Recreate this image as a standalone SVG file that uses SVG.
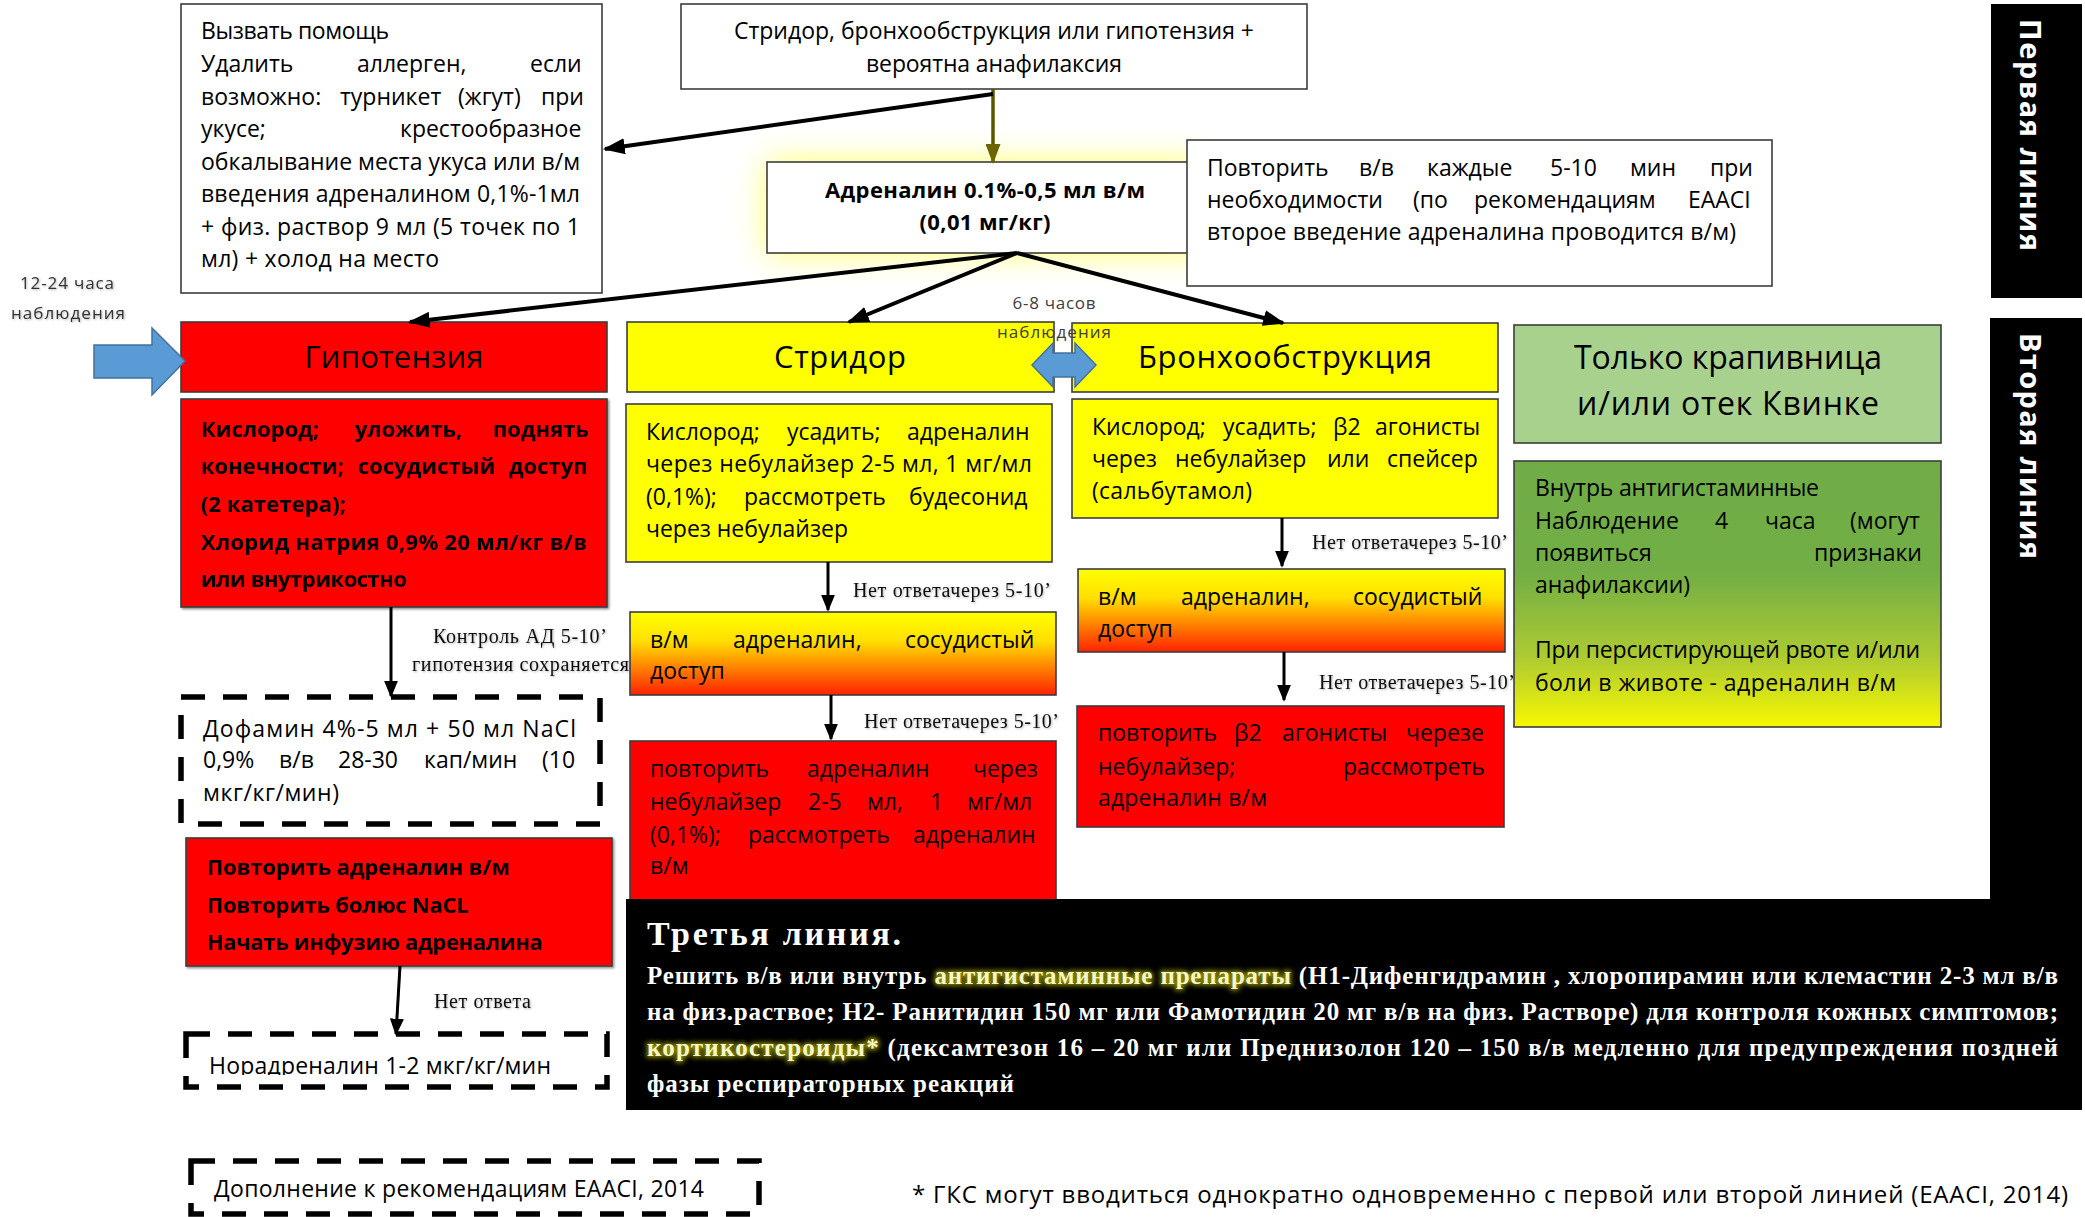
<svg xmlns="http://www.w3.org/2000/svg" width="2085" height="1217" viewBox="0 0 2085 1217">
<defs>
<style>
.s{font-family:"Open Sans","Noto Sans","DejaVu Sans",sans-serif;font-size:23px;fill:#000}
.bd{font-weight:bold}
.h{font-size:31px}
.tm{font-family:"Liberation Serif","Times New Roman",serif;font-size:20px;fill:#111}
.tb{font-family:"Liberation Serif","Times New Roman",serif;font-weight:bold;font-size:25px;fill:#fff}
.box{stroke:#3c3c3c;stroke-width:1.6}
.dash{fill:#fff;stroke:#000;stroke-width:5.5;stroke-dasharray:24 18}
.conn{stroke:#000;stroke-width:4;fill:none}
.conn2{stroke:#000;stroke-width:3;fill:none}
.blue{fill:#5b9bd5;stroke:#41719c;stroke-width:1.5}
.rb{font-size:22px}
</style>
<linearGradient id="orange" x1="0" y1="0" x2="0" y2="1">
<stop offset="0" stop-color="#ffff00"/><stop offset="0.35" stop-color="#ffdf00"/><stop offset="1" stop-color="#ff2200"/>
</linearGradient>
<linearGradient id="green" x1="0" y1="0" x2="0" y2="1">
<stop offset="0" stop-color="#70ad47"/><stop offset="0.42" stop-color="#72ae45"/><stop offset="0.75" stop-color="#b0cc30"/><stop offset="1" stop-color="#f8f800"/>
</linearGradient>
<filter id="glow" x="-30%" y="-60%" width="160%" height="220%"><feGaussianBlur stdDeviation="16"/></filter>
<filter id="shadow" x="-5%" y="-20%" width="110%" height="140%"><feDropShadow dx="1.5" dy="1.5" stdDeviation="1.2" flood-color="#000" flood-opacity="0.45"/></filter>
<filter id="soft" x="-5%" y="-20%" width="110%" height="140%"><feDropShadow dx="1" dy="1" stdDeviation="1.2" flood-color="#000" flood-opacity="0.3"/></filter>
<filter id="hlglow" x="-5%" y="-30%" width="110%" height="160%"><feGaussianBlur stdDeviation="2.5"/></filter>
<marker id="ah" viewBox="0 0 10 10" refX="9" refY="5" markerUnits="userSpaceOnUse" markerWidth="22" markerHeight="16" orient="auto" preserveAspectRatio="none"><path d="M0,0 L10,5 L0,10 z" fill="#000"/></marker>
<marker id="ah2" viewBox="0 0 10 10" refX="9" refY="5" markerUnits="userSpaceOnUse" markerWidth="17" markerHeight="14" orient="auto" preserveAspectRatio="none"><path d="M0,0 L10,5 L0,10 z" fill="#000"/></marker>
<marker id="aho" viewBox="0 0 10 10" refX="9" refY="5" markerUnits="userSpaceOnUse" markerWidth="20" markerHeight="15" orient="auto" preserveAspectRatio="none"><path d="M0,0 L10,5 L0,10 z" fill="#6b6600"/></marker>
<clipPath id="normclip"><rect x="186" y="1034" width="421" height="41"/></clipPath>
</defs>
<rect width="2085" height="1217" fill="#fff"/>

<!-- side bars -->
<g id="n-first-line">
<rect x="1991" y="4" width="91" height="294" fill="#000"/>
<text class="s bd" style="fill:#fff;font-size:29px" transform="translate(2031,135) rotate(90)" text-anchor="middle" dominant-baseline="central" textLength="232" lengthAdjust="spacing">Первая  линия</text>
</g>
<g id="n-second-line">
<rect x="1990" y="318" width="92" height="582" fill="#000"/>
<text class="s bd" style="fill:#fff;font-size:29px" transform="translate(2031,446) rotate(90)" text-anchor="middle" dominant-baseline="central" textLength="226" lengthAdjust="spacing">Вторая  линия</text>
</g>

<!-- help box -->
<g id="n-help">
<rect class="box" x="181" y="4" width="421" height="289" fill="#fff"/>
<text class="s" x="201" y="39" textLength="188" lengthAdjust="spacing">Вызвать помощь</text>
<text class="s" y="72"><tspan x="201">Удалить</tspan><tspan x="357">аллерген,</tspan><tspan x="530">если</tspan></text>
<text class="s" y="105"><tspan x="201">возможно:</tspan><tspan x="340">турникет</tspan><tspan x="458">(жгут)</tspan><tspan x="541">при</tspan></text>
<text class="s" y="137"><tspan x="201">укусе;</tspan><tspan x="400">крестообразное</tspan></text>
<text class="s" x="201" y="170" textLength="379" lengthAdjust="spacing">обкалывание места укуса или в/м</text>
<text class="s" x="201" y="202" textLength="379" lengthAdjust="spacing">введения адреналином 0,1%-1мл</text>
<text class="s" x="201" y="235" textLength="379" lengthAdjust="spacing">+ физ. раствор  9 мл (5 точек по 1</text>
<text class="s" x="201" y="267" textLength="238" lengthAdjust="spacing">мл) + холод на место</text>
</g>

<!-- start box -->
<g id="n-start">
<rect class="box" x="681" y="4" width="626" height="85" fill="#fff"/>
<text class="s" x="994" y="39" text-anchor="middle" textLength="520" lengthAdjust="spacing">Стридор, бронхообструкция или гипотензия +</text>
<text class="s" x="994" y="72" text-anchor="middle" textLength="256" lengthAdjust="spacing">вероятна анафилаксия</text>
</g>

<!-- adrenaline -->
<g id="n-adrenaline">
<rect x="767" y="162" width="436" height="91" fill="#ffff30" opacity="0.75" filter="url(#glow)"/>
<rect class="box" x="767" y="162" width="436" height="91" fill="#fff"/>
<text class="s bd" style="font-size:22px" x="985" y="198" text-anchor="middle" textLength="320" lengthAdjust="spacing">Адреналин 0.1%-0,5 мл в/м</text>
<text class="s bd" style="font-size:22px" x="985" y="230" text-anchor="middle" textLength="131" lengthAdjust="spacing">(0,01 мг/кг)</text>
</g>

<!-- repeat box -->
<g id="n-repeat">
<rect class="box" x="1187" y="140" width="585" height="146" fill="#fff"/>
<text class="s" y="176"><tspan x="1207">Повторить</tspan><tspan x="1359">в/в</tspan><tspan x="1427">каждые</tspan><tspan x="1550">5-10</tspan><tspan x="1630">мин</tspan><tspan x="1710">при</tspan></text>
<text class="s" y="208"><tspan x="1207">необходимости</tspan><tspan x="1413">(по</tspan><tspan x="1474">рекомендациям</tspan><tspan x="1688">EAACI</tspan></text>
<text class="s" x="1207" y="240" textLength="529" lengthAdjust="spacing">второе введение адреналина проводится в/м)</text>
</g>

<!-- hypotension column -->
<g id="n-hypotension">
<rect class="box" x="181" y="322" width="426" height="70" fill="#ff0000"/>
<text class="s h" x="394" y="368" text-anchor="middle" textLength="179" lengthAdjust="spacing">Гипотензия</text>
</g>
<g id="n-hypo-actions" filter="url(#shadow)">
<rect class="box" x="181" y="399" width="426" height="208" fill="#ff0000"/>
<text class="s bd rb" y="437"><tspan x="201">Кислород;</tspan><tspan x="355">уложить,</tspan><tspan x="493">поднять</tspan></text>
<text class="s bd rb" y="474"><tspan x="201">конечности;</tspan><tspan x="358">сосудистый</tspan><tspan x="509">доступ</tspan></text>
<text class="s bd rb" x="201" y="512" textLength="145" lengthAdjust="spacing">(2 катетера);</text>
<text class="s bd rb" x="201" y="550" textLength="386" lengthAdjust="spacing">Хлорид натрия 0,9% 20 мл/кг в/в</text>
<text class="s bd rb" x="201" y="587" textLength="206" lengthAdjust="spacing">или внутрикостно</text>
</g>
<g id="n-dofamin">
<rect class="dash" x="181" y="697" width="419" height="127"/>
<text class="s" x="203" y="737" textLength="373" lengthAdjust="spacing">Дофамин 4%-5 мл + 50 мл NaCl</text>
<text class="s" y="768"><tspan x="203">0,9%</tspan><tspan x="279">в/в</tspan><tspan x="338">28-30</tspan><tspan x="424">кап/мин</tspan><tspan x="542">(10</tspan></text>
<text class="s" x="203" y="801" textLength="136" lengthAdjust="spacing">мкг/кг/мин)</text>
</g>
<g id="n-repeat-adr" filter="url(#shadow)">
<rect class="box" x="186" y="838" width="426" height="128" fill="#ff0000"/>
<text class="s bd rb" x="207" y="875" textLength="303" lengthAdjust="spacing">Повторить адреналин в/м</text>
<text class="s bd rb" x="207" y="913" textLength="262" lengthAdjust="spacing">Повторить болюс NaCL</text>
<text class="s bd rb" x="207" y="950" textLength="336" lengthAdjust="spacing">Начать инфузию адреналина</text>
</g>
<g id="n-noradrenaline">
<rect class="dash" x="186" y="1034" width="421" height="53"/>
<text class="s" x="209" y="1074" textLength="342" lengthAdjust="spacing" clip-path="url(#normclip)">Норадреналин 1-2 мкг/кг/мин</text>
</g>

<!-- stridor column -->
<g id="n-stridor">
<rect class="box" x="627" y="322" width="427" height="70" fill="#ffff00"/>
<text class="s h" x="840" y="368" text-anchor="middle" textLength="132" lengthAdjust="spacing">Стридор</text>
</g>
<g id="n-stridor-actions">
<rect class="box" x="626" y="404" width="426" height="158" fill="#ffff00"/>
<text class="s" y="440"><tspan x="646">Кислород;</tspan><tspan x="787">усадить;</tspan><tspan x="907">адреналин</tspan></text>
<text class="s" x="646" y="472" textLength="386" lengthAdjust="spacing">через небулайзер 2-5 мл, 1 мг/мл</text>
<text class="s" y="505"><tspan x="646">(0,1%);</tspan><tspan x="744">рассмотреть</tspan><tspan x="909">будесонид</tspan></text>
<text class="s" x="646" y="537" textLength="202" lengthAdjust="spacing">через небулайзер</text>
</g>
<g id="n-stridor-im">
<rect class="box" x="630" y="612" width="426" height="83" fill="url(#orange)"/>
<text class="s" y="648"><tspan x="650">в/м</tspan><tspan x="733">адреналин,</tspan><tspan x="905">сосудистый</tspan></text>
<text class="s" x="650" y="679">доступ</text>
</g>
<g id="n-stridor-repeat">
<rect class="box" x="630" y="741" width="426" height="160" fill="#ff0000"/>
<text class="s" y="777"><tspan x="650">повторить</tspan><tspan x="807">адреналин</tspan><tspan x="973">через</tspan></text>
<text class="s" y="810"><tspan x="650">небулайзер</tspan><tspan x="808">2-5</tspan><tspan x="867">мл,</tspan><tspan x="930">1</tspan><tspan x="967">мг/мл</tspan></text>
<text class="s" y="843"><tspan x="650">(0,1%);</tspan><tspan x="748">рассмотреть</tspan><tspan x="913">адреналин</tspan></text>
<text class="s" x="650" y="874">в/м</text>
</g>

<!-- bronchoobstruction column -->
<g id="n-broncho">
<rect class="box" x="1072" y="323" width="426" height="69" fill="#ffff00"/>
<text class="s h" x="1285" y="368" text-anchor="middle" textLength="294" lengthAdjust="spacing">Бронхообструкция</text>
</g>
<g id="n-broncho-actions">
<rect class="box" x="1072" y="399" width="426" height="119" fill="#ffff00"/>
<text class="s" y="435"><tspan x="1092">Кислород;</tspan><tspan x="1223">усадить;</tspan><tspan x="1333">β2</tspan><tspan x="1375">агонисты</tspan></text>
<text class="s" y="467"><tspan x="1092">через</tspan><tspan x="1175">небулайзер</tspan><tspan x="1327">или</tspan><tspan x="1387">спейсер</tspan></text>
<text class="s" x="1092" y="499" textLength="160" lengthAdjust="spacing">(сальбутамол)</text>
</g>
<g id="n-broncho-im">
<rect class="box" x="1078" y="569" width="427" height="83" fill="url(#orange)"/>
<text class="s" y="605"><tspan x="1098">в/м</tspan><tspan x="1181">адреналин,</tspan><tspan x="1353">сосудистый</tspan></text>
<text class="s" x="1098" y="637">доступ</text>
</g>
<g id="n-broncho-repeat">
<rect class="box" x="1077" y="706" width="427" height="121" fill="#ff0000"/>
<text class="s" y="741"><tspan x="1098">повторить</tspan><tspan x="1234">β2</tspan><tspan x="1282">агонисты</tspan><tspan x="1406">черезе</tspan></text>
<text class="s" y="775"><tspan x="1098">небулайзер;</tspan><tspan x="1343">рассмотреть</tspan></text>
<text class="s" x="1098" y="806" textLength="169" lengthAdjust="spacing">адреналин в/м</text>
</g>

<!-- connectors -->
<g id="connectors">
<line x1="993" y1="89" x2="993" y2="162" stroke="#5a5600" stroke-width="3.5" marker-end="url(#aho)"/>
<line class="conn" x1="993" y1="94" x2="605" y2="149" marker-end="url(#ah)"/>
<line class="conn" x1="1017" y1="253" x2="410" y2="322" marker-end="url(#ah)"/>
<line class="conn" x1="1017" y1="253" x2="849" y2="322" marker-end="url(#ah)"/>
<line class="conn" x1="1017" y1="253" x2="1283" y2="323" marker-end="url(#ah)"/>
<line class="conn2" x1="391" y1="607" x2="391" y2="696" marker-end="url(#ah2)"/>
<line class="conn2" x1="400" y1="966" x2="396" y2="1034" marker-end="url(#ah2)"/>
<line class="conn2" x1="828" y1="562" x2="828" y2="610" marker-end="url(#ah2)"/>
<line class="conn2" x1="831" y1="695" x2="831" y2="739" marker-end="url(#ah2)"/>
<line class="conn2" x1="1282" y1="518" x2="1282" y2="566" marker-end="url(#ah2)"/>
<line class="conn2" x1="1284" y1="652" x2="1284" y2="700" marker-end="url(#ah2)"/>
<g filter="url(#soft)">
<text class="tm" x="433" y="643" textLength="174" lengthAdjust="spacing">Контроль АД 5-10’</text>
<text class="tm" x="412" y="671" textLength="217" lengthAdjust="spacing">гипотензия сохраняется</text>
<text class="tm" x="853" y="597" textLength="198" lengthAdjust="spacing">Нет ответачерез 5-10’</text>
<text class="tm" x="864" y="728" textLength="195" lengthAdjust="spacing">Нет ответачерез 5-10’</text>
<text class="tm" x="1312" y="549" textLength="196" lengthAdjust="spacing">Нет ответачерез 5-10’</text>
<text class="tm" x="1319" y="689" textLength="196" lengthAdjust="spacing">Нет ответачерез 5-10’</text>
<text class="tm" x="434" y="1008" textLength="97" lengthAdjust="spacing">Нет ответа</text>
</g>
</g>

<!-- urticaria column -->
<g id="n-urticaria">
<rect class="box" x="1514" y="325" width="427" height="118" fill="#a9d18e"/>
<text class="s" style="font-size:32px" x="1728" y="369" text-anchor="middle" textLength="308" lengthAdjust="spacing">Только крапивница</text>
<text class="s" style="font-size:32px" x="1728" y="415" text-anchor="middle" textLength="302" lengthAdjust="spacing">и/или  отек Квинке</text>
</g>
<g id="n-urticaria-actions">
<rect class="box" x="1514" y="461" width="427" height="266" fill="url(#green)"/>
<text class="s" x="1535" y="496" textLength="284" lengthAdjust="spacing">Внутрь антигистаминные</text>
<text class="s" y="529"><tspan x="1535">Наблюдение</tspan><tspan x="1715">4</tspan><tspan x="1765">часа</tspan><tspan x="1850">(могут</tspan></text>
<text class="s" y="561"><tspan x="1535">появиться</tspan><tspan x="1814">признаки</tspan></text>
<text class="s" x="1535" y="593" textLength="155" lengthAdjust="spacing">анафилаксии)</text>
<text class="s" x="1535" y="658" textLength="385" lengthAdjust="spacing">При персистирующей рвоте и/или</text>
<text class="s" x="1535" y="691" textLength="361" lengthAdjust="spacing">боли в животе  - адреналин в/м</text>
</g>

<!-- observation labels and blue arrows -->
<g id="n-obs-12-24">
<polygon class="blue" points="94,345 152,345 152,328 185,361 152,395 152,378 94,378"/>
<g filter="url(#soft)">
<text class="s" style="font-size:17px;fill:#333" x="67" y="289" text-anchor="middle" textLength="94" lengthAdjust="spacing">12-24 часа</text>
<text class="s" style="font-size:17px;fill:#333" x="68" y="319" text-anchor="middle" textLength="114" lengthAdjust="spacing">наблюдения</text>
</g>
</g>
<g id="n-obs-6-8">
<polygon class="blue" points="1032,365 1053,343 1053,353 1075,353 1075,343 1096,365 1075,387 1075,377 1053,377 1053,387"/>
<text class="s" style="font-size:17px;fill:#404040" x="1054" y="309" text-anchor="middle" textLength="83" lengthAdjust="spacing">6-8 часов</text>
<text class="s" style="font-size:17px;fill:#404040" x="1054" y="338" text-anchor="middle" textLength="114" lengthAdjust="spacing">наблюдения</text>
</g>

<!-- third line -->
<g id="n-third-line">
<rect x="626" y="899" width="1456" height="211" fill="#000"/>
<text class="tb" style="font-size:34px" x="647" y="945" textLength="254" lengthAdjust="spacing">Третья  линия.</text>
<g filter="url(#hlglow)">
<text class="tb" style="fill:none" x="647" y="984" textLength="1411" lengthAdjust="spacing">Решить в/в или внутрь <tspan style="fill:#8c8c00;stroke:#8c8c00;stroke-width:3">антигистаминные препараты</tspan> (Н1-Дифенгидрамин , хлоропирамин или клемастин 2-3 мл в/в</text>
<text class="tb" style="fill:none" x="647" y="1056" textLength="1411" lengthAdjust="spacing"><tspan style="fill:#8c8c00;stroke:#8c8c00;stroke-width:3">кортикостероиды*</tspan> (дексамтезон 16 – 20 мг или Преднизолон 120 – 150 в/в медленно  для предупреждения поздней</text>
</g>
<text class="tb" x="647" y="984" textLength="1411" lengthAdjust="spacing">Решить в/в или внутрь <tspan style="fill:#f6f6c8">антигистаминные препараты</tspan> (Н1-Дифенгидрамин , хлоропирамин или клемастин 2-3 мл в/в</text>
<text class="tb" x="647" y="1020" textLength="1411" lengthAdjust="spacing">на физ.раствое; Н2- Ранитидин  150 мг или Фамотидин  20 мг в/в  на физ. Растворе)  для контроля кожных симптомов;</text>
<text class="tb" x="647" y="1056" textLength="1411" lengthAdjust="spacing"><tspan style="fill:#f6f6c8">кортикостероиды*</tspan> (дексамтезон 16 – 20 мг или Преднизолон 120 – 150 в/в медленно  для предупреждения поздней</text>
<text class="tb" x="647" y="1092" textLength="367" lengthAdjust="spacing">фазы респираторных реакций</text>
</g>

<!-- bottom -->
<g id="n-eaaci">
<rect class="dash" x="191" y="1161" width="568" height="53"/>
<text class="s" x="214" y="1197" textLength="490" lengthAdjust="spacing">Дополнение к рекомендациям EAACI, 2014</text>
</g>
<g id="n-footnote">
<text class="s" style="font-size:24px" x="912" y="1203" textLength="1156" lengthAdjust="spacing">* ГКС могут вводиться однократно одновременно с первой или второй линией (EAACI, 2014)</text>
</g>
</svg>
